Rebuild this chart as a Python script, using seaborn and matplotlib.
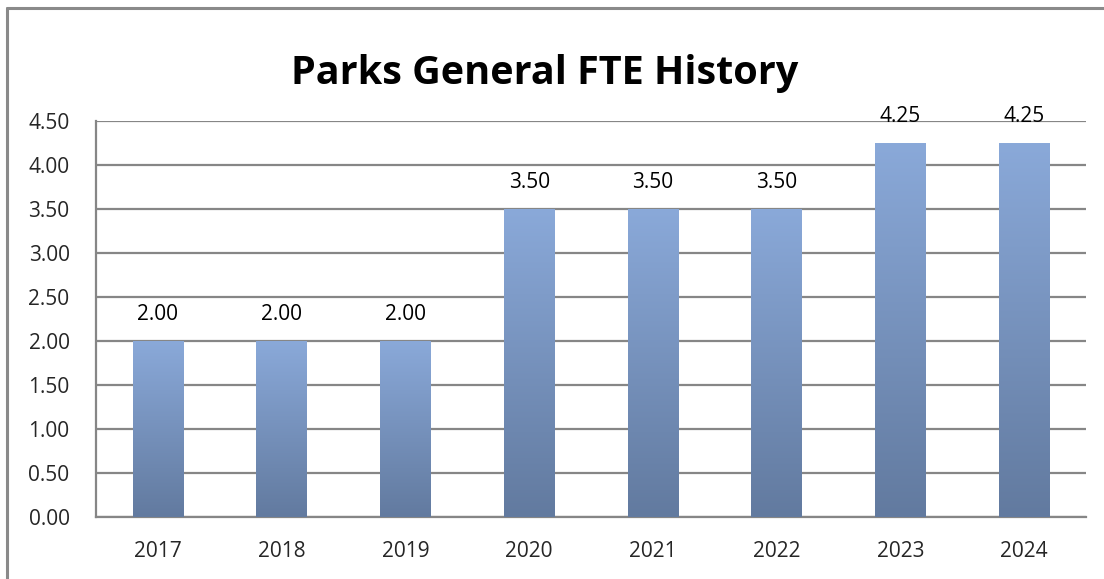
import numpy as np
import pandas as pd
import matplotlib
matplotlib.use("Agg")
import matplotlib.pyplot as plt
from matplotlib.colors import LinearSegmentedColormap
from matplotlib.lines import Line2D
import seaborn as sns

# ── Data ──────────────────────────────────────────────────────────────────────
years = ["2017", "2018", "2019", "2020", "2021", "2022", "2023", "2024"]
fte = [2.00, 2.00, 2.00, 3.50, 3.50, 3.50, 4.25, 4.25]
y_ticks = [0.0, 0.5, 1.0, 1.5, 2.0, 2.5, 3.0, 3.5, 4.0, 4.5]

df = pd.DataFrame({"year": years, "fte": fte})

# ── Style ─────────────────────────────────────────────────────────────────────
sns.set_theme(style="white")
plt.rcParams["font.family"] = ["Open Sans", "DejaVu Sans"]

GRID = "#868686"
TOP_C = "#8aa9d9"
BOT_C = "#627a9f"

fig = plt.figure(figsize=(11.04, 5.79), dpi=100)
ax = fig.add_axes([96 / 1104, 1 - 517 / 579, (1086 - 96) / 1104, (517 - 121) / 579])

sns.barplot(data=df, x="year", y="fte", ax=ax, width=0.41, color=TOP_C,
            edgecolor="none", errorbar=None, zorder=3)

# gradient fill for each bar
cmap = LinearSegmentedColormap.from_list("bar", [BOT_C, TOP_C])
grad = np.linspace(0, 1, 256).reshape(-1, 1)
for p in ax.patches:
    x0, w, h = p.get_x(), p.get_width(), p.get_height()
    ax.imshow(grad, cmap=cmap, origin="lower", aspect="auto",
              extent=[x0, x0 + w, 0, h], zorder=3)
    p.set_visible(False)
    ax.text(x0 + w / 2, h + 0.30, f"{h:.2f}", ha="center", va="center",
            fontsize=15, color="black", zorder=4)

ax.set_xlim(-0.5, len(years) - 0.5)
ax.set_ylim(0, 4.5)
ax.set_yticks(y_ticks)
ax.set_yticklabels([f"{v:.2f}" for v in y_ticks], fontsize=15)
ax.set_xticks(range(len(years)))
ax.set_xticklabels(years, fontsize=15)
ax.set_xlabel("")
ax.set_ylabel("")

# horizontal gridlines, extending left past the axis like tick marks
ax.yaxis.grid(True, color=GRID, linewidth=1.6, zorder=1)
ax.set_axisbelow(True)
ax.tick_params(axis="y", length=8, width=1.6, color=GRID, direction="out", pad=11)
ax.tick_params(axis="x", length=0, pad=17)

# category boundary ticks on the x axis
ax.set_xticks(np.arange(-0.5, len(years), 1.0), minor=True)
ax.tick_params(axis="x", which="minor", length=8, width=1.6, color=GRID,
               direction="out")

for side in ["top", "right"]:
    ax.spines[side].set_visible(False)
for side in ["left", "bottom"]:
    ax.spines[side].set_color(GRID)
    ax.spines[side].set_linewidth(1.6)

fig.text(545 / 1104, 1 - 74 / 579, "Parks General FTE History", ha="center",
         va="center", fontsize=28.5, fontweight="bold", color="black")

# chart-area border (left and top edges visible)
fig.add_artist(Line2D([7 / 1104, 7 / 1104], [0, 1 - 8 / 579],
                      transform=fig.transFigure, color="#8a8a8a", linewidth=2.2))
fig.add_artist(Line2D([7 / 1104, 1], [1 - 8 / 579, 1 - 8 / 579],
                      transform=fig.transFigure, color="#8a8a8a", linewidth=2.2))

fig.savefig("out.png", dpi=100)
